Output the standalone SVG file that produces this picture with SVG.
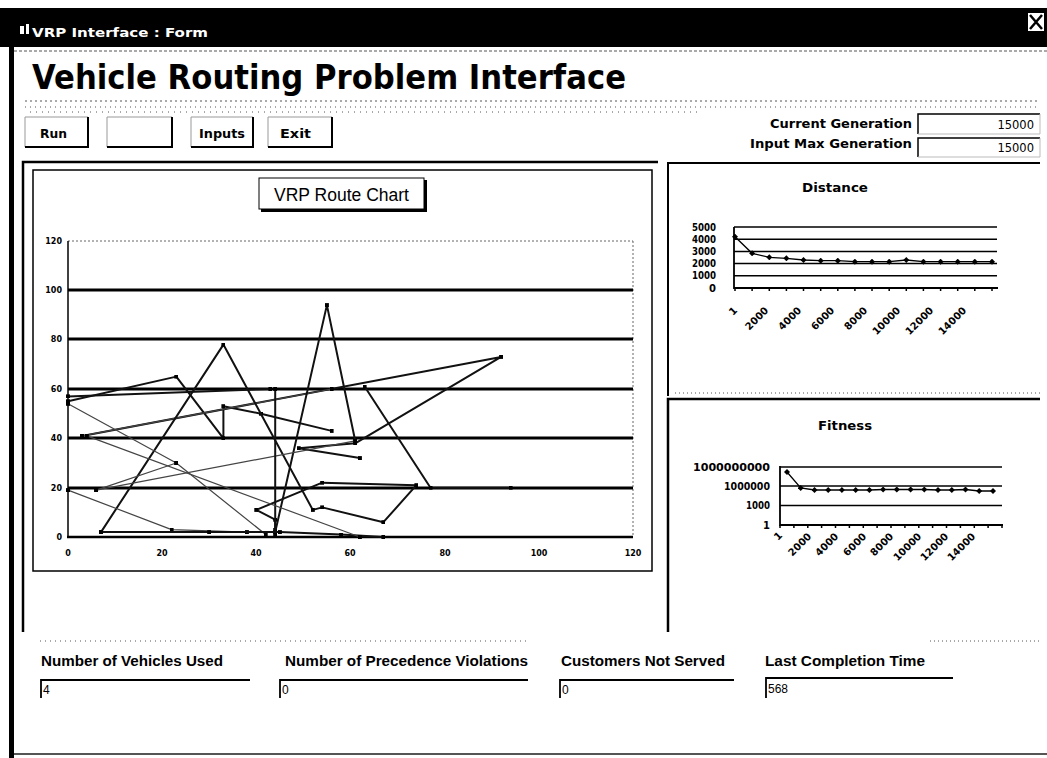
<svg xmlns="http://www.w3.org/2000/svg" width="1047" height="758" viewBox="0 0 1047 758">
  <defs>
    <style>
      text { font-family: "DejaVu Sans", "Liberation Sans", sans-serif; fill: #000; }
      .b { font-weight: bold; }
      .sep { stroke: #555; stroke-width: 1; fill: none; }
      .frame { stroke: #000; fill: none; }
      .grid { stroke: #000; stroke-width: 3; }
      .route { fill: none; stroke: #111; stroke-width: 2; stroke-linejoin: round; marker-start: url(#sq); marker-mid: url(#sq); marker-end: url(#sq); }
      .thin { stroke: #444; stroke-width: 1.2; }
      .tick { font-family: "Liberation Sans", Arial, sans-serif; font-weight: bold; font-size: 8px; }
      .mini { font-weight: bold; font-size: 10px; }
      .gline { stroke: #000; stroke-width: 1.5; }
      .series { fill: none; stroke: #000; stroke-width: 1.3; marker-start: url(#dm); marker-mid: url(#dm); marker-end: url(#dm); }
      .field { font-family: "Liberation Sans", Arial, sans-serif; font-size: 12px; }
      .cap { font-family: "Liberation Sans", Arial, sans-serif; font-weight: bold; font-size: 14px; }
    </style>
    <marker id="sq" viewBox="0 0 4 4" refX="2" refY="2" markerWidth="4" markerHeight="4" markerUnits="userSpaceOnUse">
      <rect width="4" height="4" fill="#000"/>
    </marker>
    <marker id="dm" viewBox="0 0 6 6" refX="3" refY="3" markerWidth="6" markerHeight="6" markerUnits="userSpaceOnUse">
      <path d="M3,0 L6,3 L3,6 L0,3 Z" fill="#000"/>
    </marker>
  </defs>

  <rect width="1047" height="758" fill="#fff"/>

  <!-- window title bar -->
  <g id="titlebar">
    <rect x="0" y="8" width="1047" height="39" fill="#000"/>
    <path d="M20,26 h4 v8 h-4 z M26,24 h3 v10 h-3 z" fill="#fff"/>
    <text x="32" y="37" class="b" font-size="13" fill="#fff" style="fill:#fff" textLength="176" lengthAdjust="spacingAndGlyphs">VRP Interface : Form</text>
    <rect x="1028" y="13" width="16" height="18" fill="#fff"/>
    <path d="M1030,15 L1042,29 M1042,15 L1030,29" stroke="#000" stroke-width="2.5"/>
  </g>

  <!-- window border -->
  <rect x="9" y="47" width="5" height="711" fill="#000"/>
  <line x1="14" y1="754" x2="1047" y2="754" stroke="#555" stroke-width="2"/>

  <!-- header separators -->
  <line class="sep" x1="14" y1="51" x2="1047" y2="51" stroke-dasharray="3 2"/>
  <line class="sep" x1="25" y1="101" x2="1040" y2="101" stroke-dasharray="2 3"/>
  <line class="sep" x1="25" y1="107" x2="1040" y2="107" stroke-dasharray="1 4" stroke="#777"/>
  <line class="sep" x1="30" y1="112" x2="700" y2="112" stroke-dasharray="1 5" stroke="#888"/>

  <g id="heading">
    <text x="32" y="89" class="b" font-size="34" textLength="594" lengthAdjust="spacingAndGlyphs">Vehicle Routing Problem Interface</text>
  </g>

  <!-- command buttons -->
  <g id="btn-run">
    <path d="M25,147 V117 H88" fill="none" stroke="#999" stroke-width="1"/>
    <path d="M25,147 H88 V117" fill="none" stroke="#000" stroke-width="2"/>
    <text x="40" y="138" class="b" font-size="12" textLength="27" lengthAdjust="spacingAndGlyphs">Run</text>
  </g>
  <g id="btn-blank">
    <path d="M107,147 V117 H172" fill="none" stroke="#999" stroke-width="1"/>
    <path d="M107,147 H172 V117" fill="none" stroke="#000" stroke-width="2"/>
  </g>
  <g id="btn-inputs">
    <path d="M191,147 V117 H253" fill="none" stroke="#999" stroke-width="1"/>
    <path d="M191,147 H253 V117" fill="none" stroke="#000" stroke-width="2"/>
    <text x="199" y="138" class="b" font-size="12" textLength="46" lengthAdjust="spacingAndGlyphs">Inputs</text>
  </g>
  <g id="btn-exit">
    <path d="M268,147 V117 H332" fill="none" stroke="#999" stroke-width="1"/>
    <path d="M268,147 H332 V117" fill="none" stroke="#000" stroke-width="2"/>
    <text x="280" y="138" class="b" font-size="12" textLength="31" lengthAdjust="spacingAndGlyphs">Exit</text>
  </g>

  <!-- generation counters -->
  <g id="current-generation">
    <text x="912" y="128" class="b" font-size="11.5" text-anchor="end" textLength="142" lengthAdjust="spacingAndGlyphs">Current Generation</text>
    <path d="M918,134 V114 H1040" fill="none" stroke="#000" stroke-width="1.5"/>
    <path d="M1040,114 V134 H918" fill="none" stroke="#bbb" stroke-width="1"/>
    <text x="1034" y="129" font-size="11.5" text-anchor="end">15000</text>
  </g>
  <g id="max-generation">
    <text x="912" y="148" class="b" font-size="11.5" text-anchor="end" textLength="162" lengthAdjust="spacingAndGlyphs">Input Max Generation</text>
    <path d="M918,157 V138 H1040" fill="none" stroke="#000" stroke-width="1.5"/>
    <path d="M1040,138 V157 H918" fill="none" stroke="#bbb" stroke-width="1"/>
    <text x="1034" y="152" font-size="11.5" text-anchor="end">15000</text>
  </g>

  <!-- route chart panel -->
  <g id="route-panel">
    <path class="frame" d="M23,632 V162 H658" stroke-width="2.5"/>
    <rect x="33" y="170" width="619" height="401" fill="#fff" stroke="#000" stroke-width="1.5"/>
    <rect x="261" y="180" width="166" height="32" fill="#000"/>
    <rect x="259" y="178" width="165" height="31" fill="#fff" stroke="#000" stroke-width="1"/>
    <text x="341.5" y="201" text-anchor="middle" font-family="Liberation Sans, Arial, sans-serif" style="font-family:'Liberation Sans', Arial, sans-serif" font-size="17.5">VRP Route Chart</text>

    <!-- plot area -->
    <line x1="68" y1="241" x2="633" y2="241" stroke="#666" stroke-width="1" stroke-dasharray="2 2"/>
    <line x1="633" y1="241" x2="633" y2="537" stroke="#666" stroke-width="1" stroke-dasharray="2 2"/>
    <line class="grid" x1="68" y1="290" x2="633" y2="290"/>
    <line class="grid" x1="68" y1="339" x2="633" y2="339"/>
    <line class="grid" x1="68" y1="389" x2="633" y2="389"/>
    <line class="grid" x1="68" y1="438" x2="633" y2="438"/>
    <line class="grid" x1="68" y1="488" x2="633" y2="488"/>
    <line x1="68" y1="241" x2="68" y2="538" stroke="#000" stroke-width="1.5"/>
    <line x1="67" y1="537" x2="633" y2="537" stroke="#000" stroke-width="2.5"/>

    <g class="tick" text-anchor="end">
      <text x="62" y="244">120</text>
      <text x="62" y="293">100</text>
      <text x="62" y="342">80</text>
      <text x="62" y="392">60</text>
      <text x="62" y="441">40</text>
      <text x="62" y="491">20</text>
      <text x="62" y="540">0</text>
    </g>
    <g class="tick" text-anchor="middle">
      <text x="68" y="556">0</text>
      <text x="162" y="556">20</text>
      <text x="256" y="556">40</text>
      <text x="350" y="556">60</text>
      <text x="445" y="556">80</text>
      <text x="539" y="556">100</text>
      <text x="633" y="556">120</text>
    </g>
  </g>

  <!-- vehicle routes -->
  <g id="routes">
    <polyline class="route" points="68,401.3 176.3,376.6 223.4,438.3 223.4,406.2 261,413.7 331.6,430.9"/>
    <polyline class="route" points="82.1,435.9 501.1,356.9 355.2,443.3 298.7,448.2 359.9,458.1"/>
    <polyline class="route thin" points="82.1,435.9 331.6,389"/>
    <polyline class="route" points="68,396.4 270.4,389"/>
    <polyline class="route" points="101,532.1 223.4,344.6 312.8,509.9 322.2,507.4 383.4,522.2 416.4,485.2 322.2,482.7 256.3,509.9 275.2,519.7 275.2,529.6"/>
    <polyline class="route" points="275.2,532.1 326.9,305.1 355.2,440.8"/>
    <polyline class="route" points="364.6,386.5 430.5,487.7 510.6,487.7"/>
    <polyline class="route thin" points="68,403.8 176.3,463 265.7,534.5"/>
    <polyline class="route thin" points="96.2,490.1 176.3,463"/>
    <polyline class="route thin" points="96.2,490.1 355.2,440.8"/>
    <polyline class="route thin" points="68,490.1 171.6,529.6 246.9,532.1"/>
    <polyline class="route" points="101,532.1 209.2,532.1 279.9,532.1 341.1,534.5 383.4,537"/>
    <polyline class="route" points="275.2,389 275.2,534.5"/>
    <polyline class="route thin" points="86.8,435.9 359.9,537"/>
  </g>

  <!-- distance chart panel -->
  <g id="distance-panel">
    <path class="frame" d="M668,396 V163 H1040" stroke-width="2"/>
    <line class="sep" x1="675" y1="393" x2="1040" y2="393" stroke-dasharray="1 3"/>
    <text x="835" y="192" class="b" font-size="12" text-anchor="middle" textLength="66" lengthAdjust="spacingAndGlyphs">Distance</text>
    <line class="gline" x1="734" y1="227" x2="997" y2="227"/>
    <line class="gline" x1="734" y1="239.2" x2="997" y2="239.2"/>
    <line class="gline" x1="734" y1="251.4" x2="997" y2="251.4"/>
    <line class="gline" x1="734" y1="263.6" x2="997" y2="263.6"/>
    <line class="gline" x1="734" y1="275.8" x2="997" y2="275.8"/>
    <line x1="734" y1="227" x2="734" y2="289" stroke="#000" stroke-width="1.8"/>
    <line x1="734" y1="288" x2="998" y2="288" stroke="#000" stroke-width="1.8"/>
    <path d="M735,288v3 M752.1,288v3 M769.3,288v3 M786.4,288v3 M803.5,288v3 M820.7,288v3 M837.8,288v3 M854.9,288v3 M872,288v3 M889.2,288v3 M906.3,288v3 M923.4,288v3 M940.6,288v3 M957.7,288v3 M974.8,288v3 M992,288v3" stroke="#000" stroke-width="1.5"/>
    <g class="mini" text-anchor="end">
      <text x="716" y="231" textLength="24" lengthAdjust="spacingAndGlyphs">5000</text>
      <text x="716" y="243" textLength="24" lengthAdjust="spacingAndGlyphs">4000</text>
      <text x="716" y="255" textLength="24" lengthAdjust="spacingAndGlyphs">3000</text>
      <text x="716" y="267" textLength="24" lengthAdjust="spacingAndGlyphs">2000</text>
      <text x="716" y="279" textLength="24" lengthAdjust="spacingAndGlyphs">1000</text>
      <text x="716" y="292">0</text>
    </g>
    <g class="mini" text-anchor="end">
      <text transform="translate(738,311) rotate(-45)">1</text>
      <text transform="translate(769,311) rotate(-45)">2000</text>
      <text transform="translate(802,311) rotate(-45)">4000</text>
      <text transform="translate(835,311) rotate(-45)">6000</text>
      <text transform="translate(868,311) rotate(-45)">8000</text>
      <text transform="translate(901,311) rotate(-45)">10000</text>
      <text transform="translate(934,311) rotate(-45)">12000</text>
      <text transform="translate(967,311) rotate(-45)">14000</text>
    </g>
    <polyline class="series" points="735,236.7 752.1,253.3 769.3,257.3 786.4,258.3 803.5,260 820.7,260.7 837.8,260.7 854.9,261.7 872,261.7 889.2,261.7 906.3,260 923.4,261.7 940.6,261.7 957.7,261.7 974.8,261.7 992,261.7"/>
  </g>

  <!-- fitness chart panel -->
  <g id="fitness-panel">
    <path class="frame" d="M668,632 V399 H1040" stroke-width="2.5"/>
    <text x="845" y="430" class="b" font-size="12" text-anchor="middle" textLength="54" lengthAdjust="spacingAndGlyphs">Fitness</text>
    <line class="gline" x1="780" y1="467" x2="1002" y2="467"/>
    <line class="gline" x1="780" y1="486" x2="1002" y2="486"/>
    <line class="gline" x1="780" y1="505.5" x2="1002" y2="505.5"/>
    <line x1="780" y1="466" x2="780" y2="526" stroke="#000" stroke-width="1.8"/>
    <line x1="780" y1="525" x2="1003" y2="525" stroke="#000" stroke-width="1.8"/>
    <path d="M780,525v3 M793.9,525v3 M807.8,525v3 M821.6,525v3 M835.5,525v3 M849.4,525v3 M863.3,525v3 M877.1,525v3 M891,525v3 M904.9,525v3 M918.8,525v3 M932.6,525v3 M946.5,525v3 M960.4,525v3 M974.3,525v3 M988.1,525v3 M1002,525v3" stroke="#000" stroke-width="1.5"/>
    <g class="mini" text-anchor="end">
      <text x="770" y="471" textLength="77" lengthAdjust="spacingAndGlyphs">1000000000</text>
      <text x="770" y="490" textLength="46" lengthAdjust="spacingAndGlyphs">1000000</text>
      <text x="770" y="509" textLength="24" lengthAdjust="spacingAndGlyphs">1000</text>
      <text x="770" y="529">1</text>
    </g>
    <g class="mini" text-anchor="end">
      <text transform="translate(783,536) rotate(-45)">1</text>
      <text transform="translate(812,537) rotate(-45)">2000</text>
      <text transform="translate(839,537) rotate(-45)">4000</text>
      <text transform="translate(867,537) rotate(-45)">6000</text>
      <text transform="translate(894,537) rotate(-45)">8000</text>
      <text transform="translate(922,537) rotate(-45)">10000</text>
      <text transform="translate(949,537) rotate(-45)">12000</text>
      <text transform="translate(976,537) rotate(-45)">14000</text>
    </g>
    <polyline class="series" points="787,472 800.7,488 814.5,490 828.2,490 841.9,490 855.7,490 869.4,490 883.1,489.5 896.8,489.5 910.6,489.5 924.3,489.5 938,490 951.8,490 965.5,489.5 979.2,491 993,491"/>
  </g>

  <!-- lower separator -->
  <line class="sep" x1="40" y1="641" x2="530" y2="641" stroke-dasharray="1 4"/>
  <line class="sep" x1="930" y1="641" x2="1040" y2="641" stroke-dasharray="1 3"/>

  <!-- result fields -->
  <g id="vehicles-used">
    <text x="41" y="666" class="cap" textLength="182" lengthAdjust="spacingAndGlyphs">Number of Vehicles Used</text>
    <path d="M41,698 V680 H250" fill="none" stroke="#000" stroke-width="1.8"/>
    <text x="43" y="694" class="field">4</text>
  </g>
  <g id="precedence-violations">
    <text x="285" y="666" class="cap" textLength="243" lengthAdjust="spacingAndGlyphs">Number of Precedence Violations</text>
    <path d="M280,698 V680 H528" fill="none" stroke="#000" stroke-width="1.8"/>
    <text x="282" y="694" class="field">0</text>
  </g>
  <g id="not-served">
    <text x="561" y="666" class="cap" textLength="164" lengthAdjust="spacingAndGlyphs">Customers Not Served</text>
    <path d="M560,698 V680 H734" fill="none" stroke="#000" stroke-width="1.8"/>
    <text x="562" y="694" class="field">0</text>
  </g>
  <g id="completion-time">
    <text x="765" y="666" class="cap" textLength="160" lengthAdjust="spacingAndGlyphs">Last Completion Time</text>
    <path d="M766,698 V678 H953" fill="none" stroke="#000" stroke-width="1.8"/>
    <text x="768" y="693" class="field" textLength="20" lengthAdjust="spacingAndGlyphs">568</text>
  </g>
</svg>
